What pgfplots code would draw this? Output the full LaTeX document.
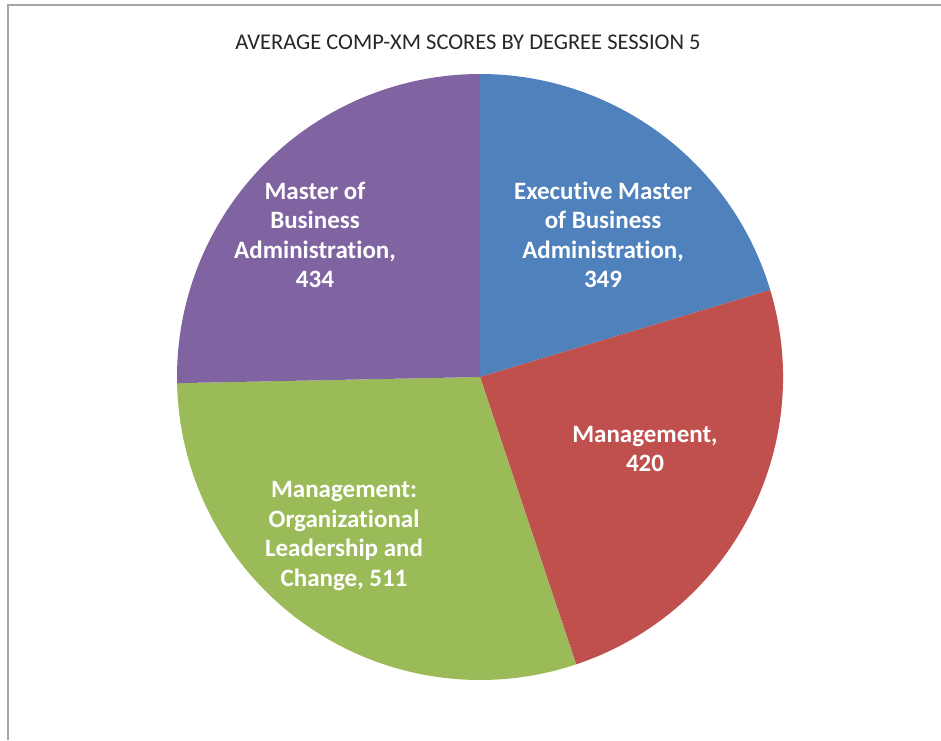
\documentclass[border=0pt]{standalone}
\usepackage{pgfplots}
\usepackage{pgfplotstable}
\pgfplotsset{compat=1.18}
\usepackage{fontspec}
\setmainfont{Carlito}[Ligatures={NoCommon}]
\definecolor{cblue}{HTML}{4F81BD}
\definecolor{cred}{HTML}{C0504D}
\definecolor{cgreen}{HTML}{9BBB59}
\definecolor{cpurple}{HTML}{8064A2}
\definecolor{frame}{HTML}{A6A6A6}
\pgfplotstableread{
idx value
0 349
1 420
2 511
3 434
}\piedata
\begin{document}
\begin{tikzpicture}
\pgfplotstablegetelem{0}{value}\of\piedata \edef\vA{\pgfplotsretval}
\pgfplotstablegetelem{1}{value}\of\piedata \edef\vB{\pgfplotsretval}
\pgfplotstablegetelem{2}{value}\of\piedata \edef\vC{\pgfplotsretval}
\pgfplotstablegetelem{3}{value}\of\piedata \edef\vD{\pgfplotsretval}
\pgfmathsetmacro\tot{\vA+\vB+\vC+\vD}
\pgfmathsetmacro\aA{90-360*(\vA/\tot)}
\pgfmathsetmacro\aB{\aA-360*(\vB/\tot)}
\pgfmathsetmacro\aC{\aB-360*(\vC/\tot)}
\pgfmathsetmacro\aD{\aC-360*(\vD/\tot)}
\begin{axis}[hide axis, scale only axis, width=941pt, height=740pt,
  xmin=0, xmax=941, ymin=0, ymax=740, y dir=reverse, clip=false]
\addplot[draw=none, mark=none] coordinates {(0,0) (941,740)};
\coordinate (bl) at (axis cs:0,740);
\coordinate (tr) at (axis cs:941,0);
\draw[frame, line width=2pt] (axis cs:8,740) -- (axis cs:8,5) -- (axis cs:941,5);
\fill[cblue] (axis cs:480,377) -- ++(90:303pt) arc[start angle=90, end angle=\aA, radius=303pt] -- cycle;
\fill[cred] (axis cs:480,377) -- ++(\aA:303pt) arc[start angle=\aA, end angle=\aB, radius=303pt] -- cycle;
\fill[cgreen] (axis cs:480,377) -- ++(\aB:303pt) arc[start angle=\aB, end angle=\aC, radius=303pt] -- cycle;
\fill[cpurple] (axis cs:480,377) -- ++(\aC:303pt) arc[start angle=\aC, end angle=\aD, radius=303pt] -- cycle;
\node[font=\fontsize{22.5}{25}\selectfont, text=black!85] at (axis cs:468,42) {AVERAGE COMP-XM SCORES BY DEGREE SESSION 5};
\tikzset{lab/.style={white, align=center, font=\fontsize{25}{29.5}\selectfont\bfseries}}
\node[lab] at (axis cs:603,235) {Executive Master\\of Business\\Administration,\\349};
\node[lab] at (axis cs:645,449) {Management,\\420};
\node[lab] at (axis cs:344,536) {Management:\\Organizational\\Leadership and\\Change, 511};
\node[lab] at (axis cs:315,235) {Master of\\Business\\Administration,\\434};
\end{axis}
\pgfresetboundingbox
\path (bl) rectangle (tr);
\end{tikzpicture}
\end{document}
